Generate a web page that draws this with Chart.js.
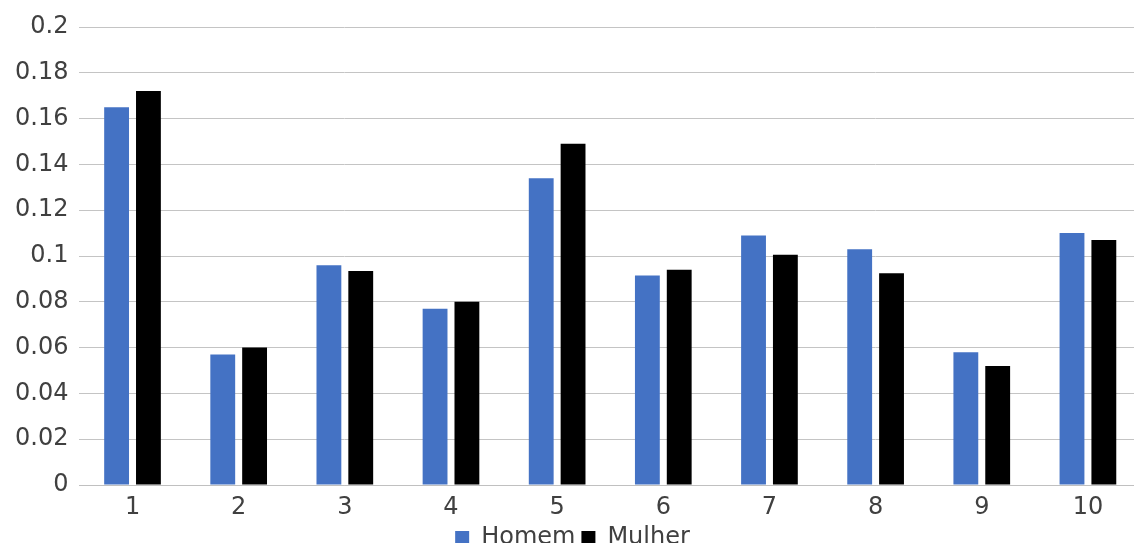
<!DOCTYPE html>
<html>
<head>
<meta charset="utf-8">
<script src="https://cdn.jsdelivr.net/npm/chart.js@4/dist/chart.umd.min.js"></script>
<style>
  html, body { margin: 0; padding: 0; background: #fff; overflow: hidden; }
  #wrap { width: 1141px; height: 543px; }
</style>
</head>
<body>
<div id="wrap"><canvas id="c" width="1141" height="543"></canvas></div>
<script>
// Categories along the x axis
const categories = ['1', '2', '3', '4', '5', '6', '7', '8', '9', '10'];
// Share per category for each group
const homem  = [0.165, 0.057, 0.096, 0.077, 0.134, 0.0915, 0.109, 0.103, 0.058, 0.110];
const mulher = [0.172, 0.060, 0.0935, 0.080, 0.149, 0.094, 0.1005, 0.0925, 0.052, 0.107];
// Y axis tick labels, from 0 to 0.2
const yTickLabels = ['0', '0.02', '0.04', '0.06', '0.08', '0.1', '0.12', '0.14', '0.16', '0.18', '0.2'];

const font = { family: "'DejaVu Sans', sans-serif", size: 24 };
const textColor = '#404040';

new Chart(document.getElementById('c'), {
  type: 'bar',
  data: {
    labels: categories,
    datasets: [
      {
        label: 'Homem',
        data: homem,
        backgroundColor: '#4472c4',
        barPercentage: 0.78,
        categoryPercentage: 0.6
      },
      {
        label: 'Mulher',
        data: mulher,
        backgroundColor: '#000000',
        barPercentage: 0.78,
        categoryPercentage: 0.6
      }
    ]
  },
  options: {
    responsive: false,
    animation: false,
    layout: { padding: { top: 27, left: 4, right: 0, bottom: 0 } },
    plugins: {
      legend: {
        position: 'bottom',
        maxHeight: 23,
        labels: {
          font: font,
          color: textColor,
          boxWidth: 14,
          boxHeight: 14,
          padding: 6
        }
      },
      tooltip: { enabled: false }
    },
    scales: {
      x: {
        grid: { display: false, drawTicks: false },
        border: { display: true, color: '#c0c0c0', width: 1 },
        ticks: { font: font, color: textColor, padding: 8 },
        // fixed height for the category axis so the legend sits right under it
        afterFit: (scale) => { scale.height = 35; }
      },
      y: {
        min: 0,
        max: 0.2,
        grid: { color: '#c4c4c4', lineWidth: 1, drawTicks: false },
        border: { display: false },
        ticks: {
          stepSize: 0.02,
          font: font,
          color: textColor,
          padding: 11,
          callback: (v, i) => yTickLabels[i]
        }
      }
    }
  }
});
</script>
</body>
</html>
